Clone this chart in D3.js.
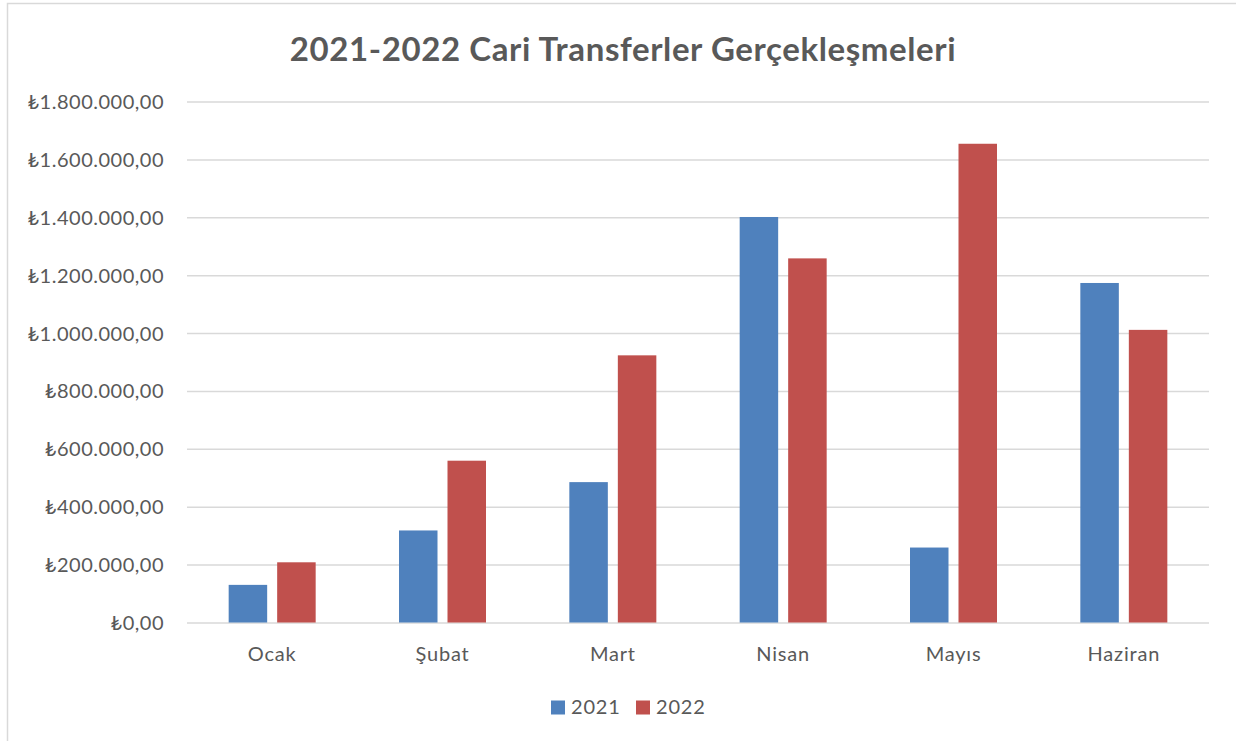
<!DOCTYPE html>
<html>
<head>
<meta charset="utf-8">
<script src="https://cdn.jsdelivr.net/npm/d3@7"></script>
<style>
  body { margin: 0; background: #fff; }
  svg text { font-family: Lato, "Open Sans", "DejaVu Sans", sans-serif; fill: #595959; }
</style>
</head>
<body>
<svg id="chart" width="1236" height="741"></svg>
<script>
// Chart data
const months = ["Ocak", "Şubat", "Mart", "Nisan", "Mayıs", "Haziran"];
const seriesNames = ["2021", "2022"];
const values2021 = [130000, 318000, 485000, 1401000, 259000, 1173000];
const values2022 = [208000, 559000, 923000, 1258000, 1654000, 1011000];
const yTicks = [0, 200000, 400000, 600000, 800000, 1000000, 1200000, 1400000, 1600000, 1800000];
const colors = ["#4f81bd", "#c0504d"];

const svg = d3.select("#chart");
const margin = { top: 101.5, right: 27, bottom: 118.5, left: 187 };
const width = 1236 - margin.left - margin.right;
const height = 741 - margin.top - margin.bottom;

// chart area border (only left and top edges visible in the crop)
svg.append("rect")
  .attr("x", 7.5).attr("y", 3.5)
  .attr("width", 1260).attr("height", 760)
  .attr("fill", "none")
  .attr("stroke", "#d9d9d9")
  .attr("stroke-width", 1.5);

// Title
svg.append("text")
  .attr("x", 623)
  .attr("y", 61)
  .attr("text-anchor", "middle")
  .style("font-size", "33px")
  .style("letter-spacing", "0.6px")
  .style("font-weight", "bold")
  .text("2021-2022 Cari Transferler Gerçekleşmeleri");

const g = svg.append("g").attr("transform", `translate(${margin.left},${margin.top})`);

const x0 = d3.scaleBand().domain(months).range([0, width]).paddingInner(0).paddingOuter(0);
const y = d3.scaleLinear().domain([0, 1800000]).range([height, 0]);

const locale = d3.formatLocale({ decimal: ",", thousands: ".", grouping: [3] });
const fmt = (v) => "₺" + locale.format(",.2f")(v);

// gridlines + y labels
const yAxis = d3.axisLeft(y).tickValues(yTicks).tickSize(-width).tickPadding(23).tickFormat(fmt);
g.append("g")
  .call(yAxis)
  .call((ax) => ax.select(".domain").remove())
  .call((ax) => ax.selectAll(".tick line").attr("stroke", "#d9d9d9").attr("stroke-width", 1.5))
  .call((ax) => ax.selectAll(".tick text")
    .style("font-size", "20px")
    .style("letter-spacing", "0.5px")
    .attr("fill", "#595959")
    .attr("dy", "0.35em"));

// bars
const barW = 38.5;
const gap = 10;
const data = months.map((m, i) => ({ month: m, vals: [values2021[i], values2022[i]] }));

const groups = g.selectAll(".grp")
  .data(data)
  .join("g")
  .attr("transform", (d) => `translate(${x0(d.month) + x0.bandwidth() / 2},0)`);

groups.selectAll("rect")
  .data((d) => d.vals.map((v, k) => ({ v, k })))
  .join("rect")
  .attr("x", (d) => (d.k === 0 ? -barW - gap / 2 : gap / 2))
  .attr("y", (d) => y(d.v))
  .attr("width", barW)
  .attr("height", (d) => height - y(d.v))
  .attr("fill", (d) => colors[d.k]);

// x labels
const xAxis = d3.axisBottom(x0).tickSize(0).tickPadding(24);
g.append("g")
  .attr("transform", `translate(0,${height})`)
  .call(xAxis)
  .call((ax) => ax.select(".domain").remove())
  .call((ax) => ax.selectAll(".tick text")
    .style("font-size", "20px")
    .style("letter-spacing", "0.8px")
    .attr("fill", "#595959"));

// legend
const legendX = [551, 636];
const legend = svg.append("g");
seriesNames.forEach((name, i) => {
  legend.append("rect")
    .attr("x", legendX[i]).attr("y", 700.5)
    .attr("width", 14).attr("height", 14)
    .attr("fill", colors[i]);
  legend.append("text")
    .attr("x", legendX[i] + 20)
    .attr("y", 714)
    .style("font-size", "20px")
    .style("letter-spacing", "0.8px")
    .text(name);
});
</script>
</body>
</html>
